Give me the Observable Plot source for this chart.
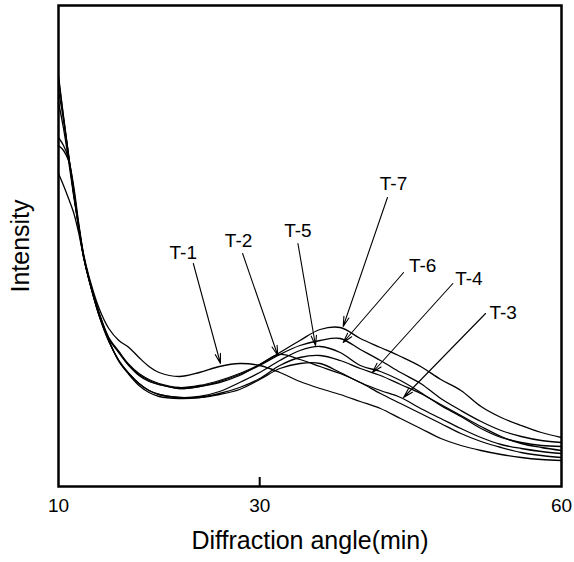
<!DOCTYPE html>
<html>
<head>
<meta charset="utf-8">
<script src="https://cdn.jsdelivr.net/npm/d3@7"></script>
<script src="https://cdn.jsdelivr.net/npm/@observablehq/plot@0.6"></script>
<style>
  html, body { margin: 0; padding: 0; background: #fff; }
  #chart svg { display: block; font-family: "Liberation Sans", Arial, sans-serif; }
</style>
</head>
<body>
<div id="chart"></div>
<script>
// Diffraction angle (min) sample positions
const angles = [10,10.5,11,11.5,12,12.5,13,14,15,16,17,18,19,20,22,24,26,28,30,32,34,36,38,40,42,44,46,48,50,52,54,56,58,60];

// Intensity (arbitrary units)
const seriesNames = ["T-1","T-2","T-3","T-4","T-5","T-6","T-7"];
const t1 = [341,336,326,301,264,232,211,179,158,146,139,129,120,114,110,114,120,123,121,114,105,98,92,85,78,68,58,48,41,36,32,29,27,26];
const t2 = [313,301,288,274,254,229,209,174,148,134,121,111,105,102,98,100,104,111,122,132,127,120,113,104,93,83,73,63,53,45,39,34,31,29];
const t3 = [349,341,328,298,262,231,209,172,145,126,113,103,96,92,89,89,92,97,107,118,123,123,114,104,96,89,78,68,58,49,42,38,35,33];
const t4 = [384,358,326,291,260,230,208,172,146,125,112,101,94,90,88,89,93,99,108,121,129,131,126,118,111,102,93,82,71,60,50,43,39,36];
const t5 = [396,366,331,294,260,230,208,173,146,126,113,103,96,92,89,90,95,104,114,126,136,140,134,121,115,106,94,81,70,58,49,44,41,40];
const t6 = [408,369,331,293,259,229,208,174,148,134,121,112,106,102,98,100,105,112,121,132,141,146,148,137,126,114,103,88,76,65,56,50,46,44];
const t7 = [411,370,332,294,260,230,209,175,149,135,122,113,107,103,99,101,106,113,122,134,146,157,159,148,139,130,120,107,96,80,69,61,54,49];
const seriesValues = [t1,t2,t3,t4,t5,t6,t7];

// Annotation labels and arrows: label position, arrow start, arrow tip
const labelNames = ["T-1","T-2","T-5","T-7","T-6","T-4","T-3"];
const labelAngle = [22.4,27.9,33.8,43.3,46.2,50.8,54.2];
const labelIntensity = [234,246,256,303,221,208,174];
const arrowFromAngle = [23.4,28.3,33.8,42.7,44.3,49.2,52.45];
const arrowFromIntensity = [223,233,243,289,214,203,173];
const arrowToAngle = [26.1,31.8,35.55,38.3,38.3,41.2,44.3];
const arrowToIntensity = [123,131,141,160,144,114,89];

const xTicks = [10,30,60];
const xLabel = "Diffraction angle(min)";
const yLabel = "Intensity";

const rows = [];
seriesNames.forEach((name, i) => {
  angles.forEach((a, j) => rows.push({series: name, angle: a, intensity: seriesValues[i][j]}));
});
const labels = labelNames.map((n, i) => ({
  name: n, la: labelAngle[i], li: labelIntensity[i],
  x1: arrowFromAngle[i], y1: arrowFromIntensity[i],
  x2: arrowToAngle[i], y2: arrowToIntensity[i]
}));

const chart = Plot.plot({
  width: 574,
  height: 562,
  marginLeft: 58,
  marginRight: 13,
  marginTop: 5,
  marginBottom: 76,
  style: {fontFamily: "'Liberation Sans', Arial, sans-serif", background: "#fff"},
  x: {domain: [10, 60], axis: null},
  y: {domain: [0, 481], axis: null},
  marks: [
    Plot.line(rows, {x: "angle", y: "intensity", z: "series", stroke: "#000", strokeWidth: 1.3, curve: "catmull-rom"}),
    Plot.arrow(labels, {x1: "x1", y1: "y1", x2: "x2", y2: "y2", stroke: "#000", strokeWidth: 1.1, headLength: 14, headAngle: 30}),
    Plot.text(labels, {x: "la", y: "li", text: "name", fontSize: 19, fill: "#000"}),
    Plot.frame({stroke: "#000", strokeWidth: 2.5}),
    Plot.tickX([30], {x: d => d, stroke: "#000", strokeWidth: 2, insetTop: 472}),
    Plot.text(xTicks, {x: d => d, text: d => String(d), frameAnchor: "bottom", lineAnchor: "middle", dy: 19, fontSize: 19, fill: "#000"}),
    Plot.text([xLabel], {frameAnchor: "bottom", lineAnchor: "middle", textAnchor: "middle", dy: 54, fontSize: 25, fill: "#000"}),
    Plot.text([yLabel], {frameAnchor: "left", lineAnchor: "middle", textAnchor: "middle", rotate: -90, dx: -38, fontSize: 25, fill: "#000"})
  ]
});
document.getElementById("chart").appendChild(chart);
</script>
</body>
</html>
